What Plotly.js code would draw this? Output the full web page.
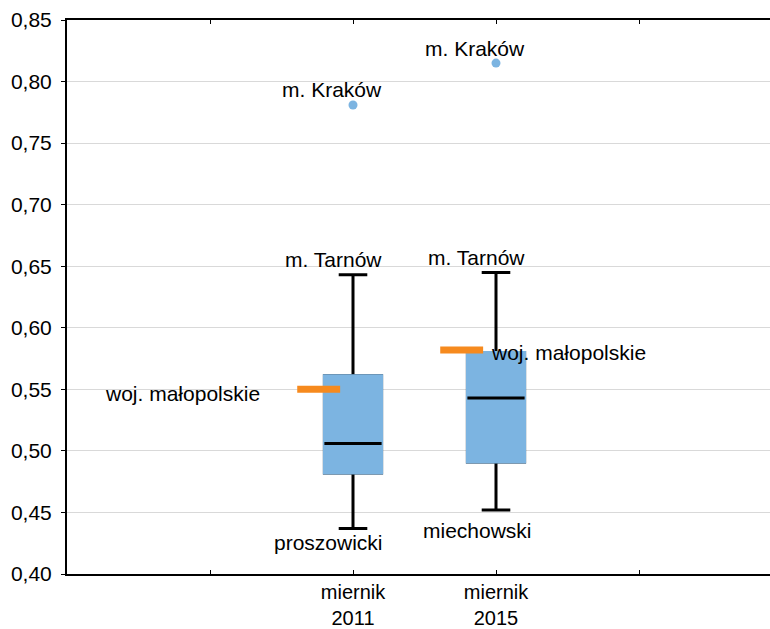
<!DOCTYPE html>
<html>
<head>
<meta charset="utf-8">
<script src="https://cdn.plot.ly/plotly-3.0.1.min.js"></script>
<style>html,body{margin:0;padding:0;background:#fff;}#chart{width:770px;height:629px;}</style>
</head>
<body>
<div id="chart"></div>
<script>
// ---- data ----
const categories = ['miernik<br>2011', 'miernik<br>2015'];
const catPos = [2, 3];
const q1 = [0.482, 0.491];
const median = [0.506, 0.543];
const q3 = [0.561, 0.580];
const lowerWhisker = [0.437, 0.452];
const upperWhisker = [0.643, 0.645];
const outlierValues = [0.781, 0.815];
const outlierNames = ['m. Kraków', 'm. Kraków'];
const upperNames = ['m. Tarnów', 'm. Tarnów'];
const lowerNames = ['proszowicki', 'miechowski'];
const regionValues = [0.550, 0.582];
const regionName = 'woj. małopolskie';
const yTickVals = [0.40, 0.45, 0.50, 0.55, 0.60, 0.65, 0.70, 0.75, 0.80, 0.85];

// ---- style ----
const BLUE = '#7cb4e1';
const ORANGE = '#f68a1e';
const FONT = 'Liberation Sans, Arial, sans-serif';
const FS = 21;
const boxW = 0.4;

const traces = [];
// black whiskers/median/outline
traces.push({
  type: 'box', x: catPos, q1: q1, median: median, q3: q3,
  lowerfence: lowerWhisker, upperfence: upperWhisker,
  width: boxW, whiskerwidth: 0.5, boxpoints: false,
  line: {color: '#000', width: 3}, fillcolor: BLUE,
  hoverinfo: 'skip', showlegend: false
});
// blue overlay box hiding the black outline
traces.push({
  type: 'box', x: catPos, q1: q1, median: median, q3: q3,
  lowerfence: q1, upperfence: q3,
  width: boxW, whiskerwidth: 0, boxpoints: false,
  line: {color: BLUE, width: 3}, fillcolor: BLUE,
  hoverinfo: 'skip', showlegend: false
});
// median lines
const mx = [], my = [];
catPos.forEach((p, i) => { mx.push(p - boxW / 2, p + boxW / 2, null); my.push(median[i], median[i], null); });
traces.push({type: 'scatter', mode: 'lines', x: mx, y: my, line: {color: '#000', width: 3}, hoverinfo: 'skip', showlegend: false});
// outliers
traces.push({type: 'scatter', mode: 'markers', x: catPos, y: outlierValues,
  marker: {color: BLUE, size: 9}, hoverinfo: 'skip', showlegend: false});
// region (woj.) markers
const rx = [], ry = [];
catPos.forEach((p, i) => { rx.push(p - 0.39, p - 0.09, null); ry.push(regionValues[i], regionValues[i], null); });
traces.push({type: 'scatter', mode: 'lines', x: rx, y: ry, line: {color: ORANGE, width: 7}, hoverinfo: 'skip', showlegend: false});

const af = {family: FONT, size: FS, color: '#000'};
const annotations = [];
catPos.forEach((p, i) => {
  annotations.push({x: p, y: outlierValues[i], xref: 'x', yref: 'y', text: outlierNames[i], showarrow: false, font: af, xshift: -21, yshift: 15});
  annotations.push({x: p, y: upperWhisker[i], xref: 'x', yref: 'y', text: upperNames[i], showarrow: false, font: af, xshift: -20, yshift: 15});
});
annotations.push({x: catPos[0], y: lowerWhisker[0], xref: 'x', yref: 'y', text: lowerNames[0], showarrow: false, font: af, xshift: -25, yshift: -14});
annotations.push({x: catPos[1], y: lowerWhisker[1], xref: 'x', yref: 'y', text: lowerNames[1], showarrow: false, font: af, xshift: -19, yshift: -21});
annotations.push({x: catPos[0] - 0.39, y: regionValues[0], xref: 'x', yref: 'y', text: regionName, showarrow: false, font: af, xanchor: 'right', xshift: -35, yshift: -4});
annotations.push({x: catPos[1] - 0.09, y: regionValues[1], xref: 'x', yref: 'y', text: regionName, showarrow: false, font: af, xanchor: 'left', xshift: 6, yshift: -3});

const layout = {
  width: 770, height: 629,
  margin: {l: 67, r: 0, t: 20, b: 55},
  paper_bgcolor: '#fff', plot_bgcolor: '#fff',
  separators: ', ',
  font: {family: FONT, size: FS, color: '#000'},
  showlegend: false,
  xaxis: {
    range: [0, 703 / 143], tickvals: [1, 2, 3, 4], ticktext: ['', categories[0], categories[1], ''],
    ticks: 'inside', ticklen: 4, tickwidth: 1, tickcolor: '#000',
    showline: true, linecolor: '#000', linewidth: 2, mirror: 'ticks',
    showgrid: false, zeroline: false, fixedrange: true,
    tickfont: {family: FONT, size: 20, color: '#000'}, ticklabelstandoff: -1
  },
  yaxis: {
    range: [0.40, 0.85], tickvals: yTickVals, tickformat: '.2f',
    ticks: 'outside', ticklen: 4, tickwidth: 1, tickcolor: '#000',
    showline: true, linecolor: '#000', linewidth: 2,
    showgrid: true, gridcolor: '#d9d9d9', gridwidth: 1, zeroline: false,
    tickfont: {family: FONT, size: FS, color: '#000'}, ticklabelstandoff: 5
  },
  annotations: annotations
};

Plotly.newPlot('chart', traces, layout, {staticPlot: true, displayModeBar: false});
</script>
</body>
</html>
